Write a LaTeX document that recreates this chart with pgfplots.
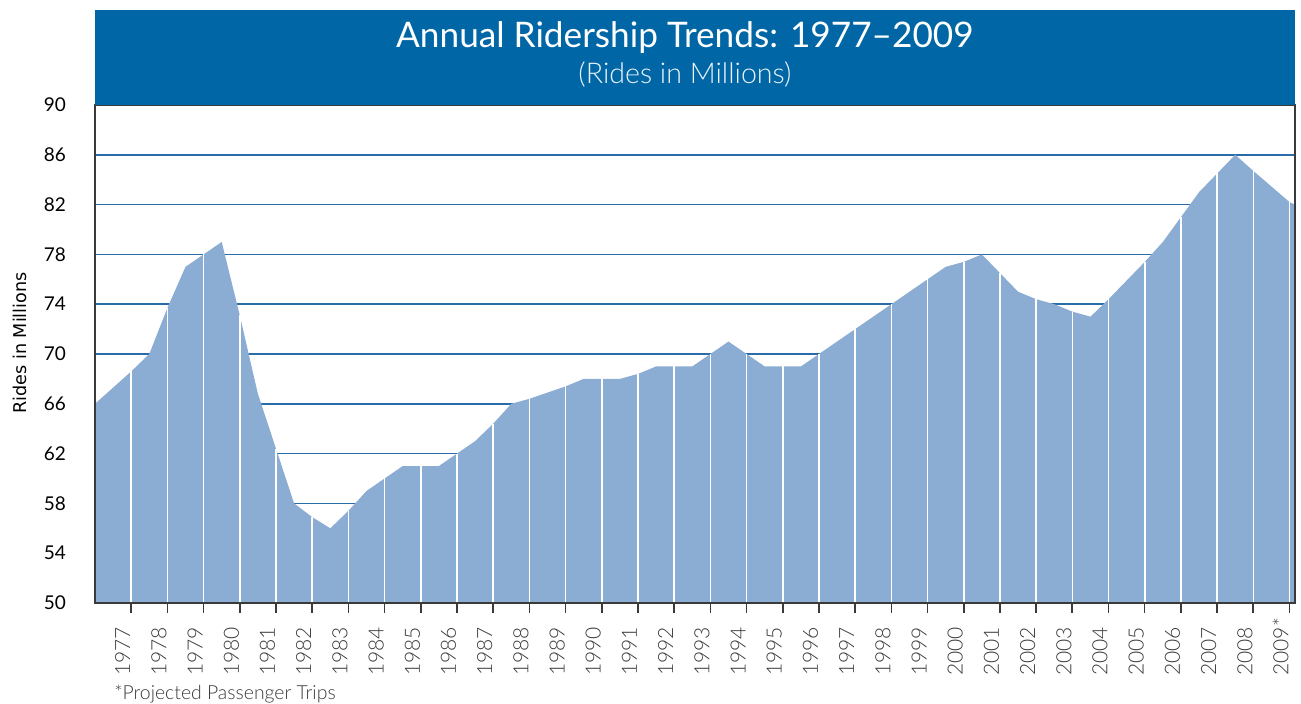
\documentclass[border=0pt]{standalone}
\usepackage{fontspec}
\setmainfont{Lato}
\newfontfamily\lightfont{Lato Light}
\newfontfamily\dejavu{DejaVu Sans}
\usepackage{pgfplots}
\usepackage{pgfplotstable}
\pgfplotsset{compat=1.18}
\definecolor{bandblue}{HTML}{0066A6}
\definecolor{areafill}{HTML}{8CADD3}
\definecolor{gridblue}{HTML}{2A6CAA}
\definecolor{axgray}{HTML}{3A3A3A}

\pgfplotstableread{
x y
1976 66.0
1977 68.6
1977.5 70.0
1978 73.7
1978.5 77.0
1979 78.0
1979.5 79.0
1980 73.1
1980.5 66.8
1981 62.4
1981.5 58.0
1982 56.9
1982.5 56.0
1983 57.4
1983.5 59.0
1984 60.0
1984.5 61.0
1985 61.0
1985.5 61.0
1986 62.0
1986.5 63.0
1987 64.4
1987.5 66.0
1988 66.4
1988.5 66.9
1989 67.4
1989.5 68.0
1990 68.0
1990.5 68.0
1991 68.4
1991.5 69.0
1992 69.0
1992.5 69.0
1993 70.0
1993.5 71.0
1994 70.0
1994.5 69.0
1995 69.0
1995.5 69.0
1996 70.0
1997 72.0
1998 74.0
1999 76.0
1999.5 77.0
2000 77.4
2000.5 78.0
2001 76.5
2001.5 75.0
2002 74.4
2002.5 74.0
2003 73.4
2003.5 73.0
2004 74.4
2005 77.4
2005.5 79.0
2006 81.0
2006.5 83.0
2007 84.5
2007.5 86.0
2008 84.7
2009 82.2
2009.15 82.0
}\ridership

\pgfplotstableread{
x y
1977 68.6
1978 73.7
1979 78.0
1980 73.1
1981 62.4
1982 56.9
1983 57.4
1984 60.0
1985 61.0
1986 62.0
1987 64.4
1988 66.4
1989 67.4
1990 68.0
1991 68.4
1992 69.0
1993 70.0
1994 70.0
1995 69.0
1996 70.0
1997 72.0
1998 74.0
1999 76.0
2000 77.4
2001 76.5
2002 74.4
2003 73.4
2004 74.4
2005 77.4
2006 81.0
2007 84.5
2008 84.7
2009 82.2
}\yearvals

\begin{document}
\begin{tikzpicture}
\useasboundingbox (-47.5pt,-50.5pt) rectangle (603pt,301.5pt);
\begin{axis}[
  name=ax, at={(0,0)}, anchor=south west,
  width=600pt, height=249pt, scale only axis,
  xmin=1976, xmax=2009.15, ymin=50, ymax=90,
  ytick={50,54,...,90},
  ymajorgrids, grid style={gridblue, line width=0.85pt},
  xtick={1977,...,2009},
  xticklabels={1977,1978,1979,1980,1981,1982,1983,1984,1985,1986,1987,1988,1989,1990,1991,1992,1993,1994,1995,1996,1997,1998,1999,2000,2001,2002,2003,2004,2005,2006,2007,2008,2009*},
  axis line style={axgray, line width=0.6pt},
  tick align=outside, major tick length=5pt,
  ytick style={draw=none},
  xtick style={axgray, line width=0.8pt},
  /pgf/number format/assume math mode=true,
  yticklabel style={font=\fontsize{9.5}{10}\selectfont, text=black, xshift=-6pt},
  xticklabel style={font=\lightfont\fontsize{10.5}{11}\selectfont, text=axgray, inner sep=0pt, yshift=-31.5pt, xshift=-0.5pt, rotate=90, anchor=base west},
]
\addplot[fill=areafill, draw=none] table {\ridership} \closedcycle;
\addplot[ycomb, white, line width=0.8pt] table {\yearvals};
\end{axis}
\draw[axgray, line width=0.6pt] (ax.south west) rectangle (ax.north east);
\fill[bandblue] (ax.north west) rectangle ([yshift=47.5pt]ax.north east);
\node[anchor=base, inner sep=0pt, text=white, font=\fontsize{17.6}{20}\selectfont] at ([xshift=-5pt, yshift=28.5pt]ax.north) {Annual Ridership Trends: 1977--2009};
\node[anchor=base, inner sep=0pt, text=white!92!bandblue, font=\lightfont\fontsize{14.3}{16}\selectfont] at ([xshift=-5pt, yshift=10.5pt]ax.north) {(Rides in Millions)};
\node[rotate=90, inner sep=0pt, font=\dejavu\fontsize{8.8}{10}\selectfont] at ([xshift=-37.5pt, yshift=5.5pt]ax.west) {Rides in Millions};
\node[anchor=base west, inner sep=0pt, text=axgray, font=\lightfont\fontsize{9.7}{10}\selectfont] at ([xshift=9.5pt, yshift=-48.5pt]ax.south west) {*Projected Passenger Trips};
\end{tikzpicture}
\end{document}
